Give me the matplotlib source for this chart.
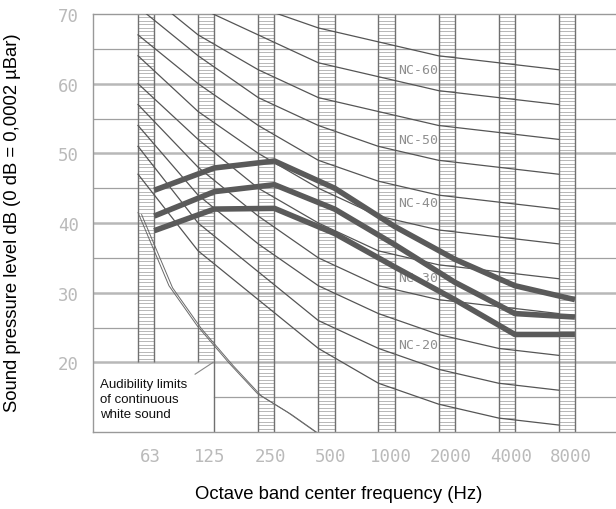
import matplotlib
matplotlib.use("Agg")
import matplotlib.pyplot as plt
import numpy as np

# octave bands
bands = ['63', '125', '250', '500', '1000', '2000', '4000', '8000']

# NC curves (dB at each octave band)
nc15 = [47, 36, 29, 22, 17, 14, 12, 11]
nc20 = [51, 40, 33, 26, 22, 19, 17, 16]
nc25 = [54, 44, 37, 31, 27, 24, 22, 21]
nc30 = [57, 48, 41, 35, 31, 29, 28, 27]
nc35 = [60, 52, 45, 40, 36, 34, 33, 32]
nc40 = [64, 56, 50, 45, 41, 39, 38, 37]
nc45 = [67, 60, 54, 49, 46, 44, 43, 42]
nc50 = [71, 64, 58, 54, 51, 49, 48, 47]
nc55 = [74, 67, 62, 58, 56, 54, 53, 52]
nc60 = [77, 71, 67, 63, 61, 59, 58, 57]
nc65 = [80, 75, 71, 68, 66, 64, 63, 62]
nc_labels = ['NC-60', 'NC-50', 'NC-40', 'NC-30', 'NC-20']
nc_label_db = [62.0, 52.0, 43.0, 32.2, 22.6]

# measured spectra (thick lines)
spec_top = [44.7, 47.9, 48.9, 45.0, 39.5, 34.8, 31.0, 29.0]
spec_mid = [41.0, 44.5, 45.5, 42.0, 36.9, 31.5, 27.0, 26.5]
spec_bot = [38.9, 42.0, 42.1, 38.5, 33.7, 29.0, 24.0, 24.0]

# audibility limit (double line)
aud_freq = [63, 90, 125, 180, 250, 355, 500]
aud_db = [41.5, 31.0, 25.2, 19.9, 15.5, 12.8, 9.8]

yticks = [20, 30, 40, 50, 60, 70]

fig = plt.figure(figsize=(6.16, 5.10), dpi=100)
ax = fig.add_axes([93/616, 77/510, 523/616, 418/510])

pos = np.arange(len(bands))
bw = 0.27
ax.set_xlim(-0.749, 7.953)
ax.set_ylim(10, 70)

# horizontal grid
for y in range(15, 70, 5):
    if y == 15:
        ax.plot([1 + bw, 8], [y, y], color='#a0a0a0', lw=0.9, zorder=1)
    elif y % 10 == 0:
        ax.axhline(y, color='#b8b8b8', lw=1.8, zorder=1)
    else:
        ax.axhline(y, color='#a0a0a0', lw=0.9, zorder=1)
ax.axhline(70, color='#999999', lw=1.2, zorder=1)

# hatched bands
for i, p in enumerate(pos):
    ylo = 20 if i < 2 else 10
    hy = np.arange(ylo + 0.5, 70, 0.5)
    ax.hlines(hy, p, p + bw, color='#acacac', lw=0.6, zorder=1)
    ax.vlines([p], ylo, 70, color='#707070', lw=1.0, zorder=2)
    ax.vlines([p + bw], 10 if i == 1 else ylo, 70, color='#707070', lw=1.0, zorder=2)

# NC curves
for c in [nc15, nc20, nc25, nc30, nc35, nc40, nc45, nc50, nc55, nc60, nc65]:
    ax.plot(pos, c, color='#555555', lw=0.9, zorder=3)

for lab, y in zip(nc_labels, nc_label_db):
    ax.text(4.66, y, lab, ha='center', va='center', fontsize=9.5,
            family='DejaVu Sans Mono', color='#8f8f8f', zorder=4)

# audibility limits
ax_aud = np.log2(np.array(aud_freq) / 63.0)
ax.plot(ax_aud, aud_db, color='#6a6a6a', lw=0.7, zorder=3)
ax.plot(ax_aud + 0.06, np.array(aud_db) - 0.3, color='#6a6a6a', lw=0.7, zorder=3)
ax.plot([0.95, 1.25], [18.3, 20.0], color='#888888', lw=0.8, zorder=3)
ax.text(-0.63, 14.7, 'Audibility limits\nof continuous\nwhite sound', ha='left', va='center',
        fontsize=9.5, family='Liberation Sans', linespacing=1.32, color='#111111', zorder=4)

# measured spectra
for s in [spec_top, spec_mid, spec_bot]:
    ax.plot(pos + bw, s, color='#5a5a5a', lw=4.0, solid_capstyle='butt',
            solid_joinstyle='round', zorder=5)

# axes styling
ax.spines['right'].set_visible(False)
for side in ['left', 'bottom', 'top']:
    ax.spines[side].set_color('#999999')
    ax.spines[side].set_linewidth(1.0)

ax.set_xticks(pos + 0.2)
ax.set_xticklabels(bands)
ax.set_yticks(yticks)
ax.tick_params(length=0, labelsize=12.5, labelcolor='#bababa', pad=11)
ax.tick_params(axis='y', pad=10)
for t in ax.get_xticklabels() + ax.get_yticklabels():
    t.set_family('DejaVu Sans Mono')

fig.text(13/616, 1 - 223/510, 'Sound pressure level dB (0 dB = 0,0002 \u00b5Bar)', rotation=90,
         ha='center', va='center', fontsize=13.3, family='Liberation Sans')
fig.text(339/616, 1 - 495/510, 'Octave band center frequency (Hz)', ha='center', va='center',
         fontsize=13.3, family='Liberation Sans')

fig.savefig('out.png', dpi=100)
